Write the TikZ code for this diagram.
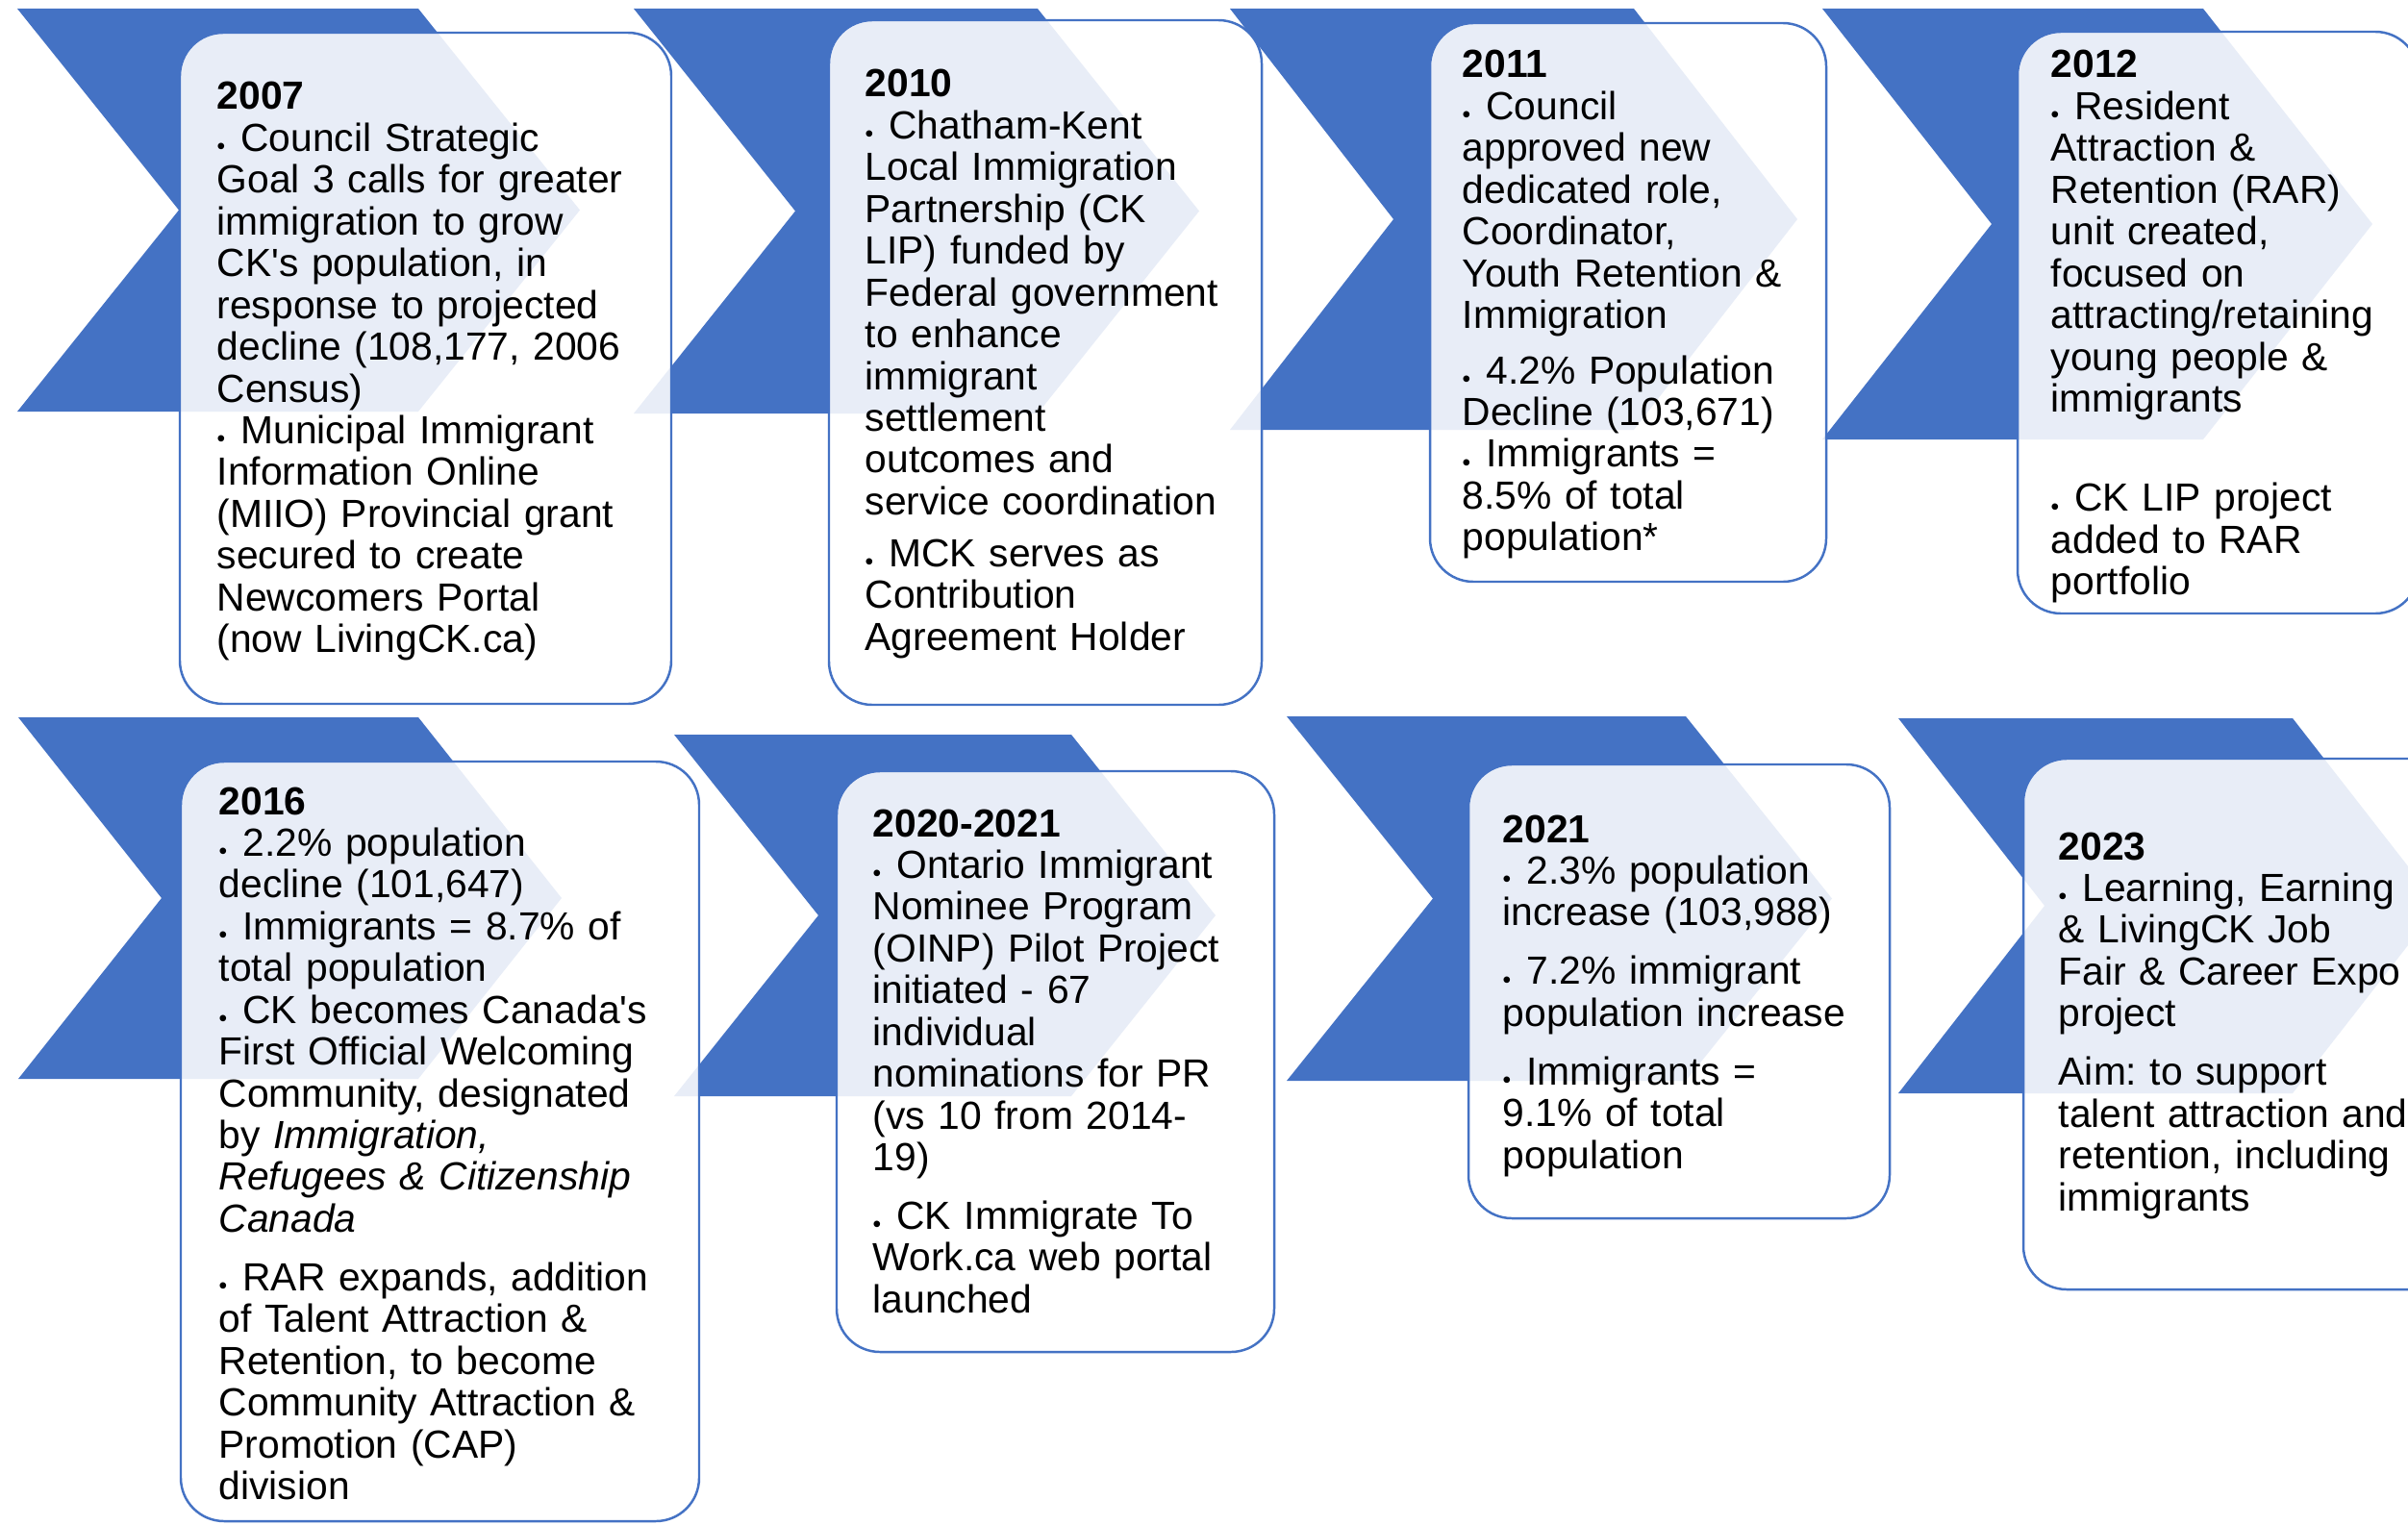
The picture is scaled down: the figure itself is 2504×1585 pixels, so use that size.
\documentclass[tikz,border=0pt]{standalone}
\usepackage{fontspec}
\setmainfont{Liberation Sans}[Ligatures=TeXOff]
\usepackage{tikz}
\usetikzlibrary{positioning}

\definecolor{chevblue}{HTML}{4472C4}

\newcommand{\cardfont}{\fontsize{11.6pt}{12.35pt}\selectfont\frenchspacing}
\newcommand{\tlbullet}{{\fontsize{7pt}{7pt}\selectfont\raisebox{-1pt}{\textbullet}}\hspace{4.6pt}}

\tikzset{
	chevron/.style={fill=chevblue, draw=none},
	card/.style={draw=chevblue, line width=0.7pt, fill=white, fill opacity=0.88, rounded corners=0.45cm},
	cardtext/.style={anchor=base west, inner sep=0pt, text width=5cm, align=left, font=\cardfont},
}

\begin{document}
\begin{tikzpicture}[x=0.01cm, y=-0.01cm]
	
	% ------------------------------------------------
	% Ensure the dimensions of graphic are appropriate
	\useasboundingbox (0,0) rectangle (2504,1585);
	\clip (0,0) rectangle (2504,1585);
	
	% ------------------------------------------------
	% Chevrons, upper row
	\coordinate (Chev2007) at (18,9);
	\coordinate (Chev2010) at (659,9);
	\coordinate (Chev2011) at (1279,9);
	\coordinate (Chev2012) at (1895,9);
	
	\fill[chevron] (Chev2007) -- +(417,0) -- +(585,209.5) -- +(417,419) -- +(0,419) -- +(168,209.5) -- cycle;
	\fill[chevron] (Chev2010) -- +(420,0) -- +(588,210.5) -- +(420,421) -- +(0,421) -- +(168,210.5) -- cycle;
	\fill[chevron] (Chev2011) -- +(420,0) -- +(590,219) -- +(420,438) -- +(0,438) -- +(170,219) -- cycle;
	\fill[chevron] (Chev2012) -- +(396,0) -- +(572,224) -- +(396,448) -- +(0,448) -- +(176,224) -- cycle;
	
	% ----------------
	% Chevrons, lower row
	\coordinate (Chev2016) at (19,746);
	\coordinate (Chev2020) at (701,764);
	\coordinate (Chev2021) at (1338,745);
	\coordinate (Chev2023) at (1974,747);
	
	\fill[chevron] (Chev2016) -- +(416,0) -- +(565,188) -- +(416,376) -- +(0,376) -- +(149,188) -- cycle;
	\fill[chevron] (Chev2020) -- +(413,0) -- +(563,188) -- +(413,376) -- +(0,376) -- +(150,188) -- cycle;
	\fill[chevron] (Chev2021) -- +(415,0) -- +(567,189.5) -- +(415,379) -- +(0,379) -- +(152,189.5) -- cycle;
	\fill[chevron] (Chev2023) -- +(410,0) -- +(562,195) -- +(410,390) -- +(0,390) -- +(152,195) -- cycle;
	
	% ------------------------------------------------
	% Cards
	\draw[card] (187,34) rectangle (698,732);
	\draw[card] (862,21) rectangle (1312,733);
	\draw[card] (1487,24) rectangle (1899,605);
	\draw[card] (2098,33) rectangle (2515,638);
	
	\draw[card] (188,792) rectangle (727,1582);
	\draw[card] (870,802) rectangle (1325,1406);
	\draw[card] (1527,795) rectangle (1965,1267);
	\draw[card] (2104,789) rectangle (2560,1341);
	
	%%%%%%%%%%%%%%%%%%%%%%%%%%%%%%%%%%%%%%%%%
	% Texts
	\node[cardtext] (Text2007) at (225,114) {\textbf{2007}\\
		\tlbullet Council Strategic\\
		Goal 3 calls for greater\\
		immigration to grow\\
		CK's population, in\\
		response to projected\\
		decline (108,177, 2006\\
		Census)\\
		\tlbullet Municipal Immigrant\\
		Information Online\\
		(MIIO) Provincial grant\\
		secured to create\\
		Newcomers Portal\\
		(now LivingCK.ca)};
	
	\node[cardtext] (Text2010) at (899,101) {\textbf{2010}\\
		\tlbullet Chatham-Kent\\
		Local Immigration\\
		Partnership (CK\\
		LIP) funded by\\
		Federal government\\
		to enhance\\
		immigrant\\
		settlement\\
		outcomes and\\
		service coordination\\[3pt]
		\tlbullet MCK serves as\\
		Contribution\\
		Agreement Holder};
	
	\node[cardtext] (Text2011) at (1520,81) {\textbf{2011}\\
		\tlbullet Council\\
		approved new\\
		dedicated role,\\
		Coordinator,\\
		Youth Retention \&\\
		Immigration\\[4pt]
		\tlbullet 4.2\% Population\\
		Decline (103,671)\\
		\tlbullet Immigrants =\\
		8.5\% of total\\
		population*};
	
	\node[cardtext] (Text2012) at (2132,81) {\textbf{2012}\\
		\tlbullet Resident\\
		Attraction \&\\
		Retention (RAR)\\
		unit created,\\
		focused on\\
		attracting/retaining\\
		young people \&\\
		immigrants\\[17pt]
		\tlbullet CK LIP project\\
		added to RAR\\
		portfolio};
	
	\node[cardtext] (Text2016) at (227,847) {\textbf{2016}\\
		\tlbullet 2.2\% population\\
		decline (101,647)\\
		\tlbullet Immigrants = 8.7\% of\\
		total population\\
		\tlbullet CK becomes Canada's\\
		First Official Welcoming\\
		Community, designated\\
		by \textit{Immigration,}\\
		\textit{Refugees \& Citizenship}\\
		\textit{Canada}\\[5pt]
		\tlbullet RAR expands, addition\\
		of Talent Attraction \&\\
		Retention, to become\\
		Community Attraction \&\\
		Promotion (CAP)\\
		division};
	
	\node[cardtext] (Text2020) at (907,870) {\textbf{2020-2021}\\
		\tlbullet Ontario Immigrant\\
		Nominee Program\\
		(OINP) Pilot Project\\
		initiated - 67\\
		individual\\
		nominations for PR\\
		(vs 10 from 2014-\\
		19)\\[5pt]
		\tlbullet CK Immigrate To\\
		Work.ca web portal\\
		launched};
	
	\node[cardtext] (Text2021) at (1562,876) {\textbf{2021}\\
		\tlbullet 2.3\% population\\
		increase (103,988)\\[5pt]
		\tlbullet 7.2\% immigrant\\
		population increase\\[5pt]
		\tlbullet Immigrants =\\
		9.1\% of total\\
		population};
	
	\node[cardtext] (Text2023) at (2140,894) {\textbf{2023}\\
		\tlbullet Learning, Earning\\
		\& LivingCK Job\\
		Fair \& Career Expo\\
		project\\[5pt]
		Aim: to support\\
		talent attraction and\\
		retention, including\\
		immigrants};
	
\end{tikzpicture}
\end{document}
